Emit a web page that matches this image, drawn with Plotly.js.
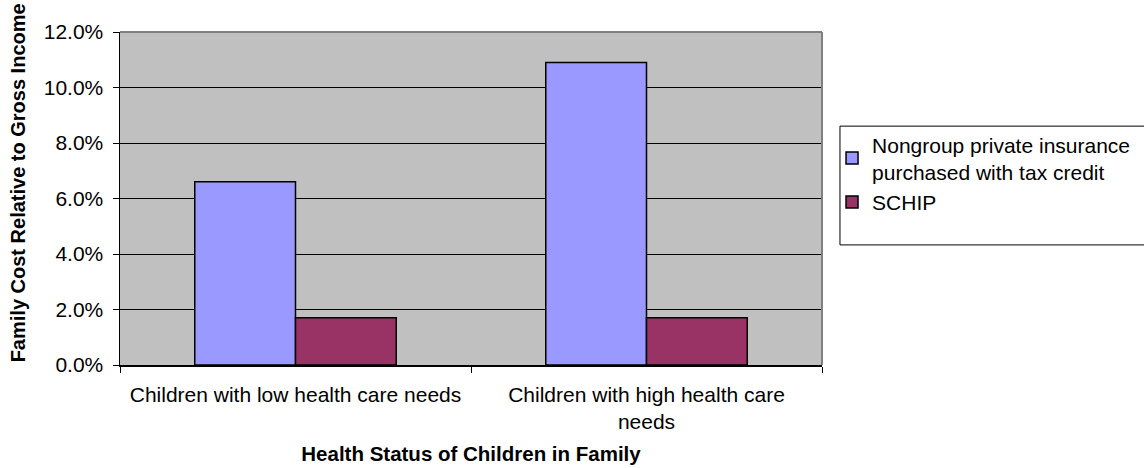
<!DOCTYPE html>
<html>
<head>
<meta charset="utf-8">
<script src="https://cdn.plot.ly/plotly-3.0.1.min.js"></script>
<style>html,body{margin:0;padding:0;background:#fff;}#chart{width:1144px;height:468px;}</style>
</head>
<body>
<div id="chart"></div>
<script>
var categories = ["Children with low health care needs", "Children with high health care<br>needs"];
var seriesNames = ["Nongroup private insurance<br>purchased with tax credit", "SCHIP"];
var nongroupValues = [0.066, 0.109];
var schipValues = [0.017, 0.017];
var yTickValues = [0, 0.02, 0.04, 0.06, 0.08, 0.10, 0.12];

var FONT = "Liberation Sans, Arial, sans-serif";

var traces = [
  {type: "bar", name: seriesNames[0], x: categories, y: nongroupValues,
   marker: {color: "#9999FF", line: {color: "#000000", width: 1.5}}, hoverinfo: "y"},
  {type: "bar", name: seriesNames[1], x: categories, y: schipValues,
   marker: {color: "#993366", line: {color: "#000000", width: 1.5}}, hoverinfo: "y"}
];

var layout = {
  width: 1144, height: 468,
  margin: {l: 120, r: 322, t: 32, b: 103, autoexpand: false},
  paper_bgcolor: "#ffffff",
  plot_bgcolor: "#C0C0C0",
  font: {family: FONT, size: 21, color: "#000000"},
  barmode: "group",
  bargap: 0.426,
  bargroupgap: 0,
  showlegend: true,
  legend: {
    x: 1.0143, y: 0.723, xanchor: "left", yanchor: "top", xref: "paper", yref: "paper",
    bgcolor: "rgba(0,0,0,0)", borderwidth: 0,
    font: {family: FONT, size: 21, color: "#000000"},
    tracegroupgap: 0
  },
  xaxis: {
    type: "category",
    tickson: "boundaries",
    ticks: "outside", ticklen: 6, tickwidth: 1, tickcolor: "#000000",
    showline: true, linecolor: "#000000", linewidth: 1.5,
    showgrid: false, zeroline: false,
    ticklabelstandoff: 10,
    tickfont: {family: FONT, size: 21, color: "#000000"},
    title: {text: "Health Status of Children in Family", standoff: 14,
            font: {family: FONT, size: 20.5, color: "#000000", weight: "bold"}},
    automargin: false
  },
  yaxis: {
    range: [0, 0.12],
    tickvals: yTickValues,
    tickformat: ".1%",
    ticks: "outside", ticklen: 6, tickwidth: 1, tickcolor: "#000000",
    showline: true, linecolor: "#000000", linewidth: 1.5,
    showgrid: true, gridcolor: "#000000", gridwidth: 1,
    zeroline: false,
    ticklabelstandoff: 5,
    tickfont: {family: FONT, size: 21, color: "#000000"},
    automargin: false
  },
  shapes: [
    {type: "line", xref: "paper", yref: "paper", x0: 0, x1: 1, y0: 1, y1: 1,
     line: {color: "#808080", width: 2}},
    {type: "line", xref: "paper", yref: "paper", x0: 1, x1: 1, y0: 0, y1: 1,
     line: {color: "#808080", width: 2}},
    {type: "rect", xref: "paper", yref: "paper", x0: 1.0256, x1: 1.47, y0: 0.3606, y1: 0.7173,
     line: {color: "#000000", width: 1}, fillcolor: "rgba(0,0,0,0)"}
  ],
  annotations: [
    {text: "Family Cost Relative to Gross Income", textangle: -90,
     xref: "paper", yref: "paper", x: -0.146, y: 0.547, xanchor: "center", yanchor: "middle",
     showarrow: false, font: {family: FONT, size: 20, color: "#000000", weight: "bold"}}
  ]
};

Plotly.newPlot("chart", traces, layout, {displayModeBar: false, staticPlot: true});
</script>
</body>
</html>
